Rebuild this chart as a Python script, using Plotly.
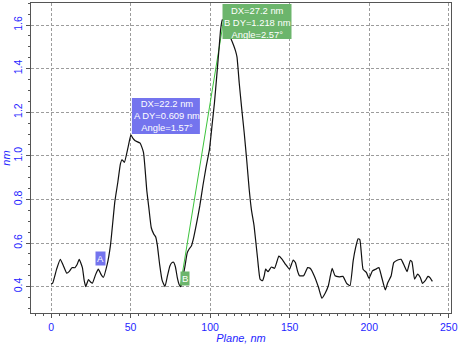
import plotly.graph_objects as go

# Height profile along the scan line
plane_nm = [0, 1.0, 3.5, 5.8, 7.8, 9.8, 11.5, 13.1, 15.0, 16.3, 17.7, 19.7, 20.8, 21.8,
            23.5, 25.0, 26.0, 28.0, 29.7, 31.5, 32.8, 35.3, 37.4, 40.1, 42.0, 43.6, 44.6,
            46.1, 48.4, 50.2, 51.5, 52.9, 56.0, 58.1, 60.2, 61.5, 63.0, 64.5, 65.8, 66.8,
            68.3, 69.8, 71.6, 73.2, 74.7, 76.0, 77.0, 78.2, 79.4, 80.5, 81.6, 82.8, 84.1,
            85.6, 87.0, 88.2, 89.5, 91.3, 93.5, 95.5, 97.5, 99.6, 101.2, 102.7, 104.2,
            105.5, 106.6, 107.6, 108.8, 110.0, 111.5, 113.2, 114.8, 116.0, 116.9, 118.3,
            119.8, 121.4, 123.0, 124.5, 126.0, 127.6, 129.8, 131.4, 132.9, 134.0, 134.9,
            136.4, 138.5, 140.5, 142.0, 143.2, 145.3, 147.4, 149.9, 152.2, 153.6, 155.0,
            156.1, 158.8, 161.3, 163.0, 165.4, 168.1, 170.2, 172.3, 174.3, 175.6, 176.7,
            178.5, 181.2, 183.5, 185.8, 187.9, 189.9, 191.4, 193.0, 194.1, 196.1, 198.2,
            199.9, 202.0, 204.1, 206.1, 207.6, 210.1, 211.7, 213.8, 215.4, 217.9, 220.0,
            222.1, 223.8, 225.8, 226.9, 228.5, 230.4, 232.1, 233.5, 235.2, 236.9, 238.1,
            239.7]
height_nm = [0.412, 0.416, 0.48, 0.525, 0.495, 0.462, 0.47, 0.487, 0.487, 0.50, 0.525,
             0.487, 0.43, 0.40, 0.432, 0.42, 0.416, 0.455, 0.48, 0.455, 0.442, 0.502,
             0.593, 0.79, 0.88, 0.963, 0.982, 0.97, 1.039, 1.096, 1.08, 1.069, 1.058,
             1.016, 0.84, 0.76, 0.67, 0.642, 0.628, 0.59, 0.50, 0.43, 0.40, 0.45, 0.495,
             0.51, 0.512, 0.49, 0.44, 0.41, 0.400, 0.44, 0.49, 0.555, 0.575, 0.586, 0.62,
             0.684, 0.77, 0.865, 0.95, 1.031, 1.14, 1.242, 1.37, 1.484, 1.58, 1.625,
             1.612, 1.59, 1.559, 1.535, 1.506, 1.48, 1.453, 1.333, 1.22, 1.107, 0.98,
             0.85, 0.75, 0.68, 0.53, 0.434, 0.427, 0.45, 0.48, 0.469, 0.49, 0.484, 0.515,
             0.54, 0.525, 0.502, 0.48, 0.522, 0.51, 0.47, 0.45, 0.45, 0.487, 0.483, 0.45,
             0.397, 0.347, 0.37, 0.404, 0.45, 0.484, 0.45, 0.445, 0.447, 0.415, 0.404,
             0.518, 0.578, 0.619, 0.616, 0.48, 0.465, 0.438, 0.472, 0.48, 0.487, 0.45,
             0.385, 0.419, 0.45, 0.51, 0.522, 0.525, 0.495, 0.469, 0.52, 0.513, 0.434,
             0.457, 0.442, 0.415, 0.427, 0.447, 0.442, 0.424]

# Measurement A
a_start = (28.0, 0.487)
a_dx, a_dy, a_angle = 22.2, 0.609, 1.57
# Measurement B
b_start = (81.2, 0.400)
b_dx, b_dy, b_angle = 27.2, 1.218, 2.57

x_ticks = [0, 50, 100, 150, 200, 250]
y_ticks = [0.4, 0.6, 0.8, 1.0, 1.2, 1.4, 1.6]

BLUE_BOX = "#7474ee"
GREEN_BOX = "#6cb56c"
LABEL_FONT = dict(family="Liberation Sans, Arial, sans-serif", size=9.4, color="white")
TICK_FONT = dict(family="Liberation Sans, Arial, sans-serif", size=10.5, color="#1f1fff")

a_end = (a_start[0] + a_dx, a_start[1] + a_dy)
b_end = (b_start[0] + b_dx, b_start[1] + b_dy)

fig = go.Figure()

# B measurement line
fig.add_trace(go.Scatter(
    x=[b_start[0], b_end[0]], y=[b_start[1], b_end[1]],
    mode="lines", line=dict(color="#3cc43c", width=1), hoverinfo="skip"))

# Profile curve
fig.add_trace(go.Scatter(
    x=plane_nm, y=height_nm, mode="lines",
    line=dict(color="#111111", width=1.2, shape="spline", smoothing=0.4),
    hoverinfo="skip"))

shapes = []
annotations = []

# Box for measurement A, anchored at its end point
shapes.append(dict(type="rect", xref="x", yref="y", xsizemode="pixel", ysizemode="pixel",
                   xanchor=a_end[0], yanchor=a_end[1], x0=1, x1=69, y0=1, y1=37,
                   fillcolor=BLUE_BOX, line=dict(width=0), layer="above"))
annotations.append(dict(x=a_end[0], y=a_end[1], xref="x", yref="y",
                        text=f"DX={a_dx} nm<br>A DY={a_dy} nm<br>Angle={a_angle}°",
                        showarrow=False, xanchor="center", yanchor="middle", align="center",
                        xshift=36, yshift=19, font=LABEL_FONT))

# Box for measurement B, held at the top of the plot
shapes.append(dict(type="rect", xref="x", yref="paper", xsizemode="pixel",
                   xanchor=b_end[0], x0=-1, x1=68, y0=0.884, y1=0.997,
                   fillcolor=GREEN_BOX, line=dict(width=0), layer="above"))
annotations.append(dict(x=b_end[0], y=0.9385, xref="x", yref="paper",
                        text=f"DX={b_dx} nm<br>B DY={b_dy} nm<br>Angle={b_angle}°",
                        showarrow=False, xanchor="center", yanchor="middle", align="center",
                        xshift=34, font=LABEL_FONT))

# Small start markers
marker_font = dict(family="Liberation Sans, Arial", size=9.5, color="white")
annotations.append(dict(x=a_start[0], y=a_start[1], xref="x", yref="y", text="A",
                        showarrow=False, xanchor="left", yanchor="bottom", xshift=-1,
                        yshift=2, bgcolor=BLUE_BOX, borderpad=1, font=marker_font))
annotations.append(dict(x=b_start[0], y=b_start[1], xref="x", yref="y", text="B",
                        showarrow=False, xanchor="left", yanchor="bottom", xshift=0,
                        yshift=1, bgcolor=GREEN_BOX, borderpad=1, font=marker_font))

grid = dict(showgrid=True, gridcolor="#9c9c9c", gridwidth=1, griddash="3px,2px",
            zeroline=False, showline=True, linecolor="#555555", linewidth=1, mirror=True,
            ticks="outside", ticklen=4, tickcolor="#555555", tickfont=TICK_FONT)

fig.update_layout(
    width=460, height=344,
    margin=dict(l=28, r=8, t=2, b=28),
    paper_bgcolor="white", plot_bgcolor="white",
    showlegend=False,
    shapes=shapes, annotations=annotations,
    xaxis=dict(range=[-12.6, 251.4], tickvals=x_ticks,
               minor=dict(dtick=5, tick0=0, ticks="outside", ticklen=2,
                          tickcolor="#555555", showgrid=False),
               title=dict(text="Plane, nm", standoff=2,
                          font=dict(family="Liberation Sans, Arial", size=11,
                                    color="#1f1fff", style="italic")),
               **grid),
    yaxis=dict(range=[0.279, 1.701], tickvals=y_ticks, tickformat=".1f", tickangle=-90,
               minor=dict(dtick=0.05, tick0=0, ticks="outside", ticklen=2,
                          tickcolor="#555555", showgrid=False),
               title=dict(text="nm", standoff=2,
                          font=dict(family="Liberation Sans, Arial", size=11,
                                    color="#1f1fff", style="italic")),
               **grid),
)

fig.write_html("out.html")
